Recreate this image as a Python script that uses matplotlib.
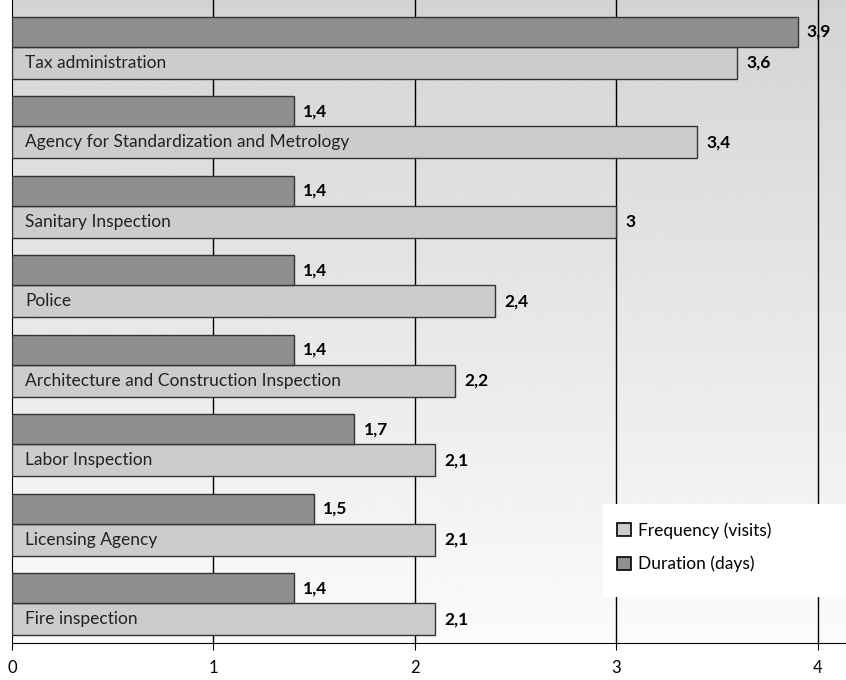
import matplotlib.pyplot as plt
import numpy as np
from matplotlib.patches import Patch, Rectangle

# donnees (du bas vers le haut)
categories = ["Fire inspection", "Licensing Agency", "Labor Inspection",
              "Architecture and Construction Inspection", "Police",
              "Sanitary Inspection", "Agency for Standardization and Metrology",
              "Tax administration"]
frequency = [2.1, 2.1, 2.1, 2.2, 2.4, 3.0, 3.4, 3.6]
duration = [1.4, 1.5, 1.7, 1.4, 1.4, 1.4, 1.4, 3.9]

c_freq = "#cccccc"
c_dur = "#8f8f8f"

fig = plt.figure(figsize=(8.46, 6.8), dpi=100)
ax = fig.add_axes([12/846, 37/680, 834/846, 643/680])

y = np.arange(len(categories))
h_freq = 0.4
h_dur = 0.375

# fond en degrade
grad = np.linspace(0.985, 0.83, 256).reshape(-1, 1)
ax.imshow(grad, cmap="gray", vmin=0, vmax=1, aspect="auto",
          extent=[0, 4.14, -0.5, 7.5875], origin="lower", zorder=0)

for xv in [1, 2, 3, 4]:
    ax.axvline(xv, color="black", lw=1.0, zorder=1)

# frequence sous l'axe du groupe, duree au-dessus
ax.barh(y - h_freq/2, frequency, height=h_freq, color=c_freq,
        edgecolor="#333333", lw=1.0, zorder=3)
ax.barh(y + h_dur/2, duration, height=h_dur, color=c_dur,
        edgecolor="#333333", lw=1.0, zorder=3)

def fmt(v):
    return ("%g" % v).replace(".", ",")

for i in range(len(categories)):
    ax.text(frequency[i] + 0.045, y[i] - h_freq/2, fmt(frequency[i]),
            va="center", ha="left", fontsize=12.5, fontweight="bold",
            family="Lato", zorder=4)
    ax.text(duration[i] + 0.045, y[i] + h_dur/2, fmt(duration[i]),
            va="center", ha="left", fontsize=12.5, fontweight="bold",
            family="Lato", zorder=4)
    ax.text(0.065, y[i] - h_freq/2, categories[i], va="center", ha="left",
            fontsize=12.5, color="#222222", family="Lato", zorder=4)

ax.set_xlim(0, 4.14)
ax.set_ylim(-0.5, 7.5875)
ax.set_xticks([0, 1, 2, 3, 4])
ax.set_yticks([])
ax.tick_params(axis="x", direction="out", length=5, pad=7, labelsize=12)
for lab in ax.get_xticklabels():
    lab.set_family("Lato")
ax.spines["top"].set_visible(False)
ax.spines["right"].set_visible(False)

# cadre blanc de la legende
ax.add_patch(Rectangle(((603-12)/834, (643-597)/643), 1 - (603-12)/834, 93/643,
                       transform=ax.transAxes, facecolor="white", edgecolor="none",
                       zorder=5))
handles = [Patch(facecolor=c_freq, edgecolor="black", lw=1.2, label="Frequency (visits)"),
           Patch(facecolor=c_dur, edgecolor="black", lw=1.2, label="Duration (days)")]
leg = ax.legend(handles=handles, loc="upper left",
                bbox_to_anchor=((617-12)/834, (643-522)/643),
                frameon=False, handlelength=0.8, handleheight=0.8,
                handletextpad=0.4, borderpad=0, labelspacing=1.0,
                borderaxespad=0, prop={"family": "Lato", "size": 12.5})
leg.set_zorder(6)

fig.savefig("out.png", dpi=100)
